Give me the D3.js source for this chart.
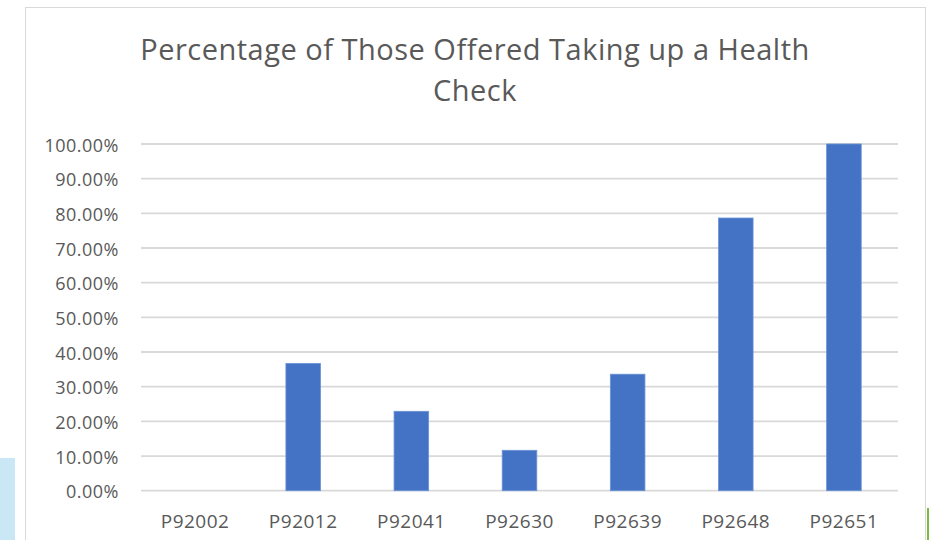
<!DOCTYPE html>
<html>
<head>
<meta charset="utf-8">
<script src="https://cdn.jsdelivr.net/npm/d3@7"></script>
<style>
  html, body { margin: 0; padding: 0; background: #ffffff; }
  svg { display: block; }
</style>
</head>
<body>
<svg id="chart" width="929" height="540"></svg>
<script>
// Practice codes and uptake share (fraction of those offered)
const practices = ["P92002", "P92012", "P92041", "P92630", "P92639", "P92648", "P92651"];
const uptake = [0.0, 0.367, 0.229, 0.1165, 0.336, 0.7865, 1.0];
const yTicks = [0, 0.1, 0.2, 0.3, 0.4, 0.5, 0.6, 0.7, 0.8, 0.9, 1.0];
const titleLines = ["Percentage of Those Offered Taking up a Health", "Check"];

const svg = d3.select("#chart");
const FONT = "'Open Sans', 'Noto Sans', sans-serif";

// decorative edges of the surrounding page
svg.append("rect").attr("x", 0).attr("y", 458).attr("width", 15).attr("height", 82).attr("fill", "#c9e7f4");
svg.append("rect").attr("x", 927).attr("y", 508).attr("width", 2).attr("height", 32).attr("fill", "#7dbb3c");

// chart frame
svg.append("rect")
  .attr("x", 25.5).attr("y", 7.5)
  .attr("width", 900).attr("height", 540)
  .attr("fill", "#ffffff").attr("stroke", "#d9d9d9").attr("stroke-width", 1);

const plot = { left: 141, right: 898, top: 144, bottom: 490.7 };

const x = d3.scaleBand().domain(practices).range([plot.left, plot.right]).padding(0);
const y = d3.scaleLinear().domain([0, 1]).range([plot.bottom, plot.top]);

// gridlines
svg.append("g")
  .selectAll("line")
  .data(yTicks)
  .join("line")
  .attr("x1", plot.left).attr("x2", plot.right)
  .attr("y1", d => y(d)).attr("y2", d => y(d))
  .attr("stroke", "#d9d9d9").attr("stroke-width", 1.8);

// y axis labels
const yAxis = d3.axisLeft(y).tickValues(yTicks).tickFormat(d3.format(".2%")).tickSize(0).tickPadding(0);
const gy = svg.append("g").attr("transform", "translate(119,1.5)").call(yAxis);
gy.select(".domain").remove();
gy.selectAll("text")
  .attr("fill", "#595959")
  .style("font-family", FONT)
  .style("font-size", "18px")
  .style("letter-spacing", "0.5px");

// bars
const barW = x.bandwidth() * 0.32;
svg.append("g")
  .selectAll("rect")
  .data(practices.map((p, i) => ({ p, v: uptake[i] })))
  .join("rect")
  .attr("x", d => x(d.p) + (x.bandwidth() - barW) / 2)
  .attr("width", barW)
  .attr("y", d => y(d.v))
  .attr("height", d => y(0) - y(d.v))
  .attr("fill", "#4472c4")
  .attr("stroke", d => d.v > 0 ? "#6b93d6" : "none")
  .attr("stroke-width", 0.8);

// x axis labels
const xAxis = d3.axisBottom(x).tickSize(0).tickPadding(0);
const gx = svg.append("g").attr("transform", "translate(0,514)").call(xAxis);
gx.select(".domain").remove();
gx.selectAll("text")
  .attr("fill", "#595959")
  .style("font-family", FONT)
  .style("font-size", "19px")
  .style("letter-spacing", "0.5px");

// title
svg.append("g")
  .selectAll("text")
  .data(titleLines)
  .join("text")
  .attr("x", 475)
  .attr("y", (d, i) => 60 + i * 41)
  .attr("text-anchor", "middle")
  .attr("fill", "#595959")
  .style("font-family", FONT)
  .style("font-size", "29px")
  .style("letter-spacing", "0.5px")
  .text(d => d);
</script>
</body>
</html>
